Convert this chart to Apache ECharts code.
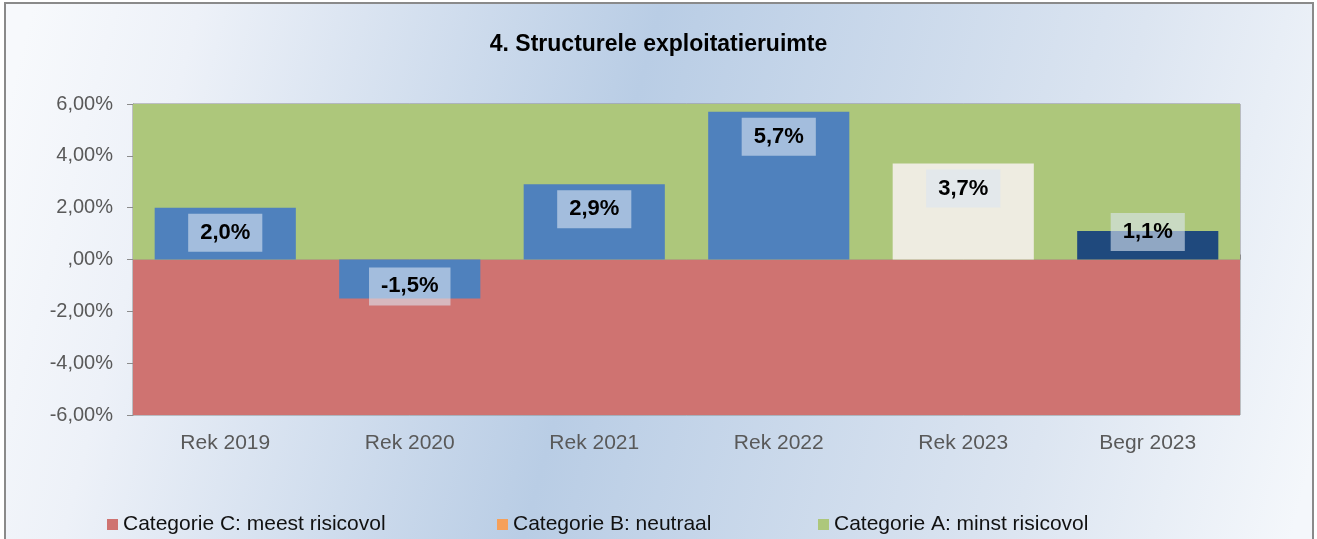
<!DOCTYPE html>
<html>
<head>
<meta charset="utf-8">
<script src="https://cdn.jsdelivr.net/npm/echarts@6/dist/echarts.min.js"></script>
<style>
  html, body { margin: 0; padding: 0; background: #ffffff; }
  #chart { width: 1317px; height: 539px; }
</style>
</head>
<body>
<div id="chart"></div>
<script>
// ---- data ----
const title = '4. Structurele exploitatieruimte';
const categories = ['Rek 2019', 'Rek 2020', 'Rek 2021', 'Rek 2022', 'Rek 2023', 'Begr 2023'];
const values = [2.0, -1.5, 2.9, 5.7, 3.7, 1.1];
const yTickValues = [-6, -4, -2, 0, 2, 4, 6];
const yTickLabels = ['-6,00%', '-4,00%', '-2,00%', ',00%', '2,00%', '4,00%', '6,00%'];
const legendNames = ['Categorie C: meest risicovol', 'Categorie B: neutraal', 'Categorie A: minst risicovol'];
const bandC = [-6, 0];   // range of category C band
const bandA = [0, 6];    // range of category A band

// ---- styles ----
const barColors = ['#4f81bd', '#4f81bd', '#4f81bd', '#4f81bd', '#eeece1', '#1f497d'];
const legendColors = ['#cf7371', '#f6a05a', '#adc77b'];
const FONT = '"Liberation Sans", Arial, sans-serif';

function fmtVal(v) { return v.toFixed(1).replace('.', ',') + '%'; }

function labelFor(v) {
  if (v < 0) return { position: 'insideBottom', distance: -7 };
  if (v < 1.5) return { position: 'insideTop', distance: -18 };
  return { position: 'insideTop', distance: 6 };
}

const chart = echarts.init(document.getElementById('chart'), null, { renderer: 'canvas' });

const option = {
  animation: false,
  backgroundColor: '#ffffff',
  textStyle: { fontFamily: FONT },
  graphic: [{
    type: 'rect',
    z: -100,
    silent: true,
    shape: { x: 5, y: 3, width: 1308, height: 560 },
    style: {
      fill: new echarts.graphic.LinearGradient(0, 0.2, 1, 0.8, [
        { offset: 0, color: '#f7f9fc' },
        { offset: 0.12, color: '#edf1f8' },
        { offset: 0.45, color: '#b9cde5' },
        { offset: 0.8, color: '#dce5f1' },
        { offset: 1, color: '#f4f7fb' }
      ]),
      stroke: '#8a8a8a',
      lineWidth: 2
    }
  }],
  title: {
    text: title,
    left: 'center',
    top: 28,
    textStyle: { fontFamily: FONT, fontSize: 23, fontWeight: 'bold', color: '#000000' }
  },
  legend: legendNames.map((n, i) => ({
    data: [n],
    left: [107, 497, 818][i],
    top: 514,
    padding: 0,
    icon: 'rect',
    itemWidth: 11,
    itemHeight: 11,
    selectedMode: false,
    textStyle: { fontFamily: FONT, fontSize: 21, color: '#111111' }
  })),
  grid: {
    left: 133, right: 77, top: 104, bottom: 124,
    show: true, borderColor: '#8c8c8c', borderWidth: 1, backgroundColor: 'transparent'
  },
  xAxis: [{
    type: 'category',
    data: categories,
    position: 'bottom',
    axisLine: { show: false, onZero: false },
    axisTick: { show: false },
    axisLabel: { fontFamily: FONT, fontSize: 21, color: '#595959', margin: 18 }
  }, {
    type: 'category',
    data: categories,
    position: 'bottom',
    axisLine: { show: true, onZero: true, lineStyle: { color: '#8c8c8c', width: 1 } },
    axisTick: { show: true, inside: true, length: 5, lineStyle: { color: '#8c8c8c' } },
    axisLabel: { show: false },
    splitLine: { show: false }
  }],
  yAxis: {
    type: 'value',
    min: -6, max: 6, interval: 2,
    axisLine: { show: true, lineStyle: { color: '#8c8c8c', width: 1 } },
    axisTick: { show: true, length: 6, lineStyle: { color: '#8c8c8c' } },
    splitLine: { show: false },
    axisLabel: {
      fontFamily: FONT, fontSize: 20, color: '#595959', margin: 20,
      formatter: v => { const i = yTickValues.indexOf(v); return i >= 0 ? yTickLabels[i] : ''; }
    }
  },
  series: [
    {
      name: legendNames[0], type: 'line', data: [], xAxisIndex: 0,
      color: legendColors[0], z: 1,
      markArea: {
        silent: true,
        itemStyle: { color: legendColors[0], opacity: 1, borderWidth: 0 },
        data: [[{ yAxis: bandC[0] }, { yAxis: bandC[1] }]]
      }
    },
    {
      name: legendNames[1], type: 'line', data: [], xAxisIndex: 0,
      color: legendColors[1], z: 1
    },
    {
      name: legendNames[2], type: 'line', data: [], xAxisIndex: 0,
      color: legendColors[2], z: 1,
      markArea: {
        silent: true,
        itemStyle: { color: legendColors[2], opacity: 1, borderWidth: 0 },
        data: [[{ yAxis: bandA[0] }, { yAxis: bandA[1] }]]
      }
    },
    {
      name: 'Structurele exploitatieruimte',
      type: 'bar',
      xAxisIndex: 0,
      barCategoryGap: '23.5%',
      z: 5,
      data: values.map((v, i) => ({
        value: v,
        itemStyle: { color: barColors[i] },
        label: labelFor(v)
      })),
      label: {
        show: true,
        formatter: p => fmtVal(p.value),
        fontFamily: FONT,
        fontSize: 22,
        fontWeight: 'bold',
        color: '#000000',
        backgroundColor: 'rgba(220,230,242,0.6)',
        padding: [8, 12]
      }
    }
  ]
};

chart.setOption(option);
</script>
</body>
</html>
